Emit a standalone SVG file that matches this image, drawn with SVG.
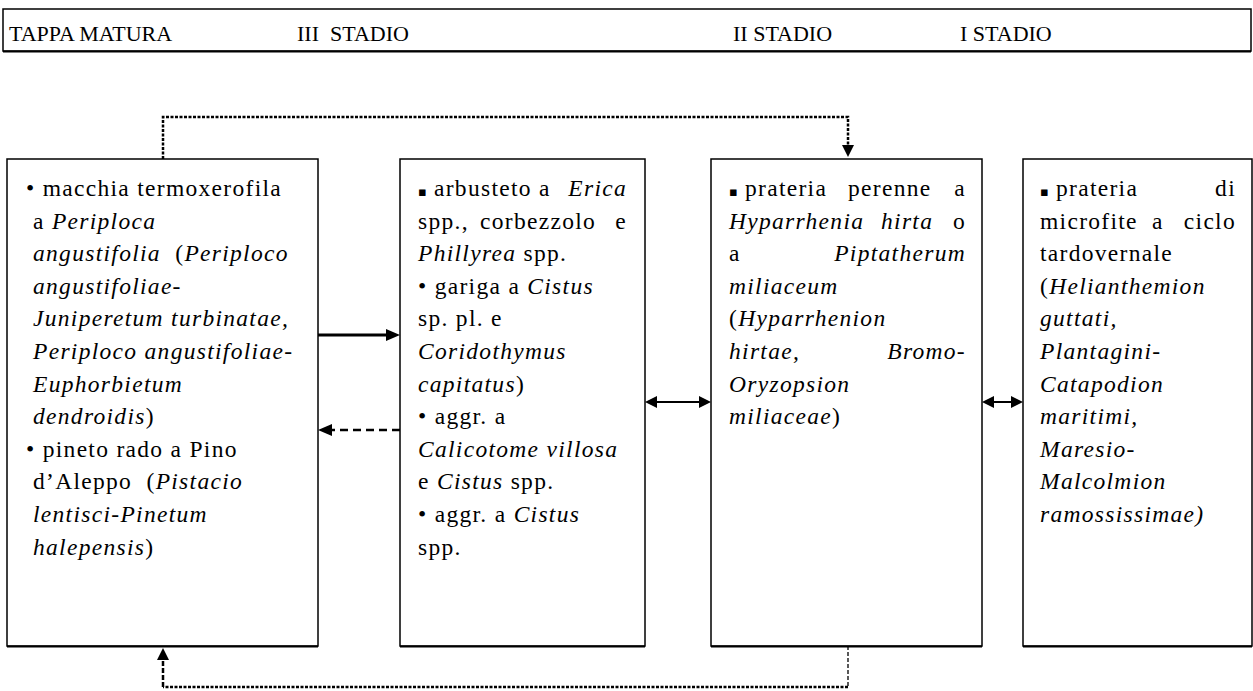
<svg xmlns="http://www.w3.org/2000/svg" width="1253" height="691" viewBox="0 0 1253 691">
<style>
.bx{fill:#fff;stroke:#000;stroke-width:1.5}
.sh{stroke:#000;stroke-width:2}
.t{font-family:"Liberation Serif","Times New Roman",serif;font-size:23.5px;letter-spacing:1.3px;fill:#000}
.h{font-family:"Liberation Serif","Times New Roman",serif;font-size:22px;fill:#000}
.i{font-style:italic}
.e{text-anchor:end}
.sq{font-family:"DejaVu Sans",sans-serif;font-size:13px;letter-spacing:0}
.c{fill:none;stroke:#000}
</style>
<defs>
<marker id="ah" markerUnits="userSpaceOnUse" markerWidth="14" markerHeight="12" refX="0" refY="6" orient="auto-start-reverse"><path d="M0,0 L14,6 L0,12 z" fill="#000"/></marker>
<marker id="as" markerUnits="userSpaceOnUse" markerWidth="12" markerHeight="12" refX="0" refY="6" orient="auto-start-reverse"><path d="M0,0 L12,6 L0,12 z" fill="#000"/></marker>
</defs>

<g id="header">
<rect class="bx" x="3" y="9" width="1248" height="42"/>
<line class="sh" x1="3" y1="51.5" x2="1251" y2="51.5"/>
<text class="h" x="9" y="41">TAPPA MATURA</text>
<text class="h" x="297" y="41" xml:space="preserve">III  STADIO</text>
<text class="h" x="733" y="41">II STADIO</text>
<text class="h" x="960" y="41">I STADIO</text>
</g>

<g id="connectors">
<path class="c" d="M163,159 V117 H848 V145" stroke-width="2.5" stroke-dasharray="3 1.5" marker-end="url(#as)"/>
<path class="c" d="M848,646 V687" stroke-width="1.3" stroke-dasharray="4 2"/>
<path class="c" d="M848,687 H163" stroke-width="2.5" stroke-dasharray="3 1.5"/>
<path class="c" d="M163,687 V660" stroke-width="2.5" stroke-dasharray="5 2" marker-end="url(#as)"/>
<path class="c" d="M318,335 H386" stroke-width="3" marker-end="url(#ah)"/>
<path class="c" d="M400,430 H332" stroke-width="2.5" stroke-dasharray="8 5" marker-end="url(#ah)"/>
<path class="c" d="M657,402 H699" stroke-width="2" marker-start="url(#as)" marker-end="url(#as)"/>
<path class="c" d="M994,402 H1011" stroke-width="2" marker-start="url(#as)" marker-end="url(#as)"/>
</g>

<g id="tappa-matura">
<rect class="bx" x="7" y="159" width="311" height="487"/>
<line class="sh" x1="7" y1="646.5" x2="318" y2="646.5"/>
<text class="t" x="26" y="196">• macchia termoxerofila</text>
<text class="t" x="33" y="228.6">a <tspan class="i">Periploca</tspan></text>
<text class="t" x="33" y="261.2" xml:space="preserve"><tspan class="i">angustifolia</tspan>  (<tspan class="i">Periploco</tspan></text>
<text class="t i" x="33" y="293.8">angustifoliae-</text>
<text class="t i" x="33" y="326.4">Juniperetum turbinatae,</text>
<text class="t i" x="33" y="359">Periploco angustifoliae-</text>
<text class="t i" x="33" y="391.6">Euphorbietum</text>
<text class="t" x="33" y="424.2"><tspan class="i">dendroidis</tspan>)</text>
<text class="t" x="26" y="456.8">• pineto rado a Pino</text>
<text class="t" x="33" y="489.4" xml:space="preserve">d’Aleppo  (<tspan class="i">Pistacio</tspan></text>
<text class="t i" x="33" y="522">lentisci-Pinetum</text>
<text class="t" x="33" y="554.6"><tspan class="i">halepensis</tspan>)</text>
</g>

<g id="stadio-3">
<rect class="bx" x="400" y="159" width="245" height="487"/>
<line class="sh" x1="400" y1="646.5" x2="645" y2="646.5"/>
<text class="t" x="418" y="196"><tspan class="sq">▪</tspan> arbusteto a</text>
<text class="t i e" x="627" y="196">Erica</text>
<text class="t" x="418" y="228.6">spp.,</text>
<text class="t" x="480" y="228.6">corbezzolo</text>
<text class="t e" x="627" y="228.6">e</text>
<text class="t" x="418" y="261.2"><tspan class="i">Phillyrea</tspan> spp.</text>
<text class="t" x="418" y="293.8">• gariga a <tspan class="i">Cistus</tspan></text>
<text class="t" x="418" y="326.4">sp. pl. e</text>
<text class="t i" x="418" y="359">Coridothymus</text>
<text class="t" x="418" y="391.6"><tspan class="i">capitatus</tspan>)</text>
<text class="t" x="418" y="424.2">• aggr. a</text>
<text class="t i" x="418" y="456.8">Calicotome villosa</text>
<text class="t" x="418" y="489.4">e <tspan class="i">Cistus</tspan> spp.</text>
<text class="t" x="418" y="522">• aggr. a <tspan class="i">Cistus</tspan></text>
<text class="t" x="418" y="554.6">spp.</text>
</g>

<g id="stadio-2">
<rect class="bx" x="711" y="159" width="271" height="487"/>
<line class="sh" x1="711" y1="646.5" x2="982" y2="646.5"/>
<text class="t" x="729" y="196"><tspan class="sq">▪</tspan> prateria</text>
<text class="t" x="848" y="196">perenne</text>
<text class="t e" x="966" y="196">a</text>
<text class="t i" x="729" y="228.6">Hyparrhenia</text>
<text class="t i" x="881" y="228.6">hirta</text>
<text class="t e" x="966" y="228.6">o</text>
<text class="t" x="729" y="261.2">a</text>
<text class="t i e" x="966" y="261.2">Piptatherum</text>
<text class="t i" x="729" y="293.8">miliaceum</text>
<text class="t" x="729" y="326.4">(<tspan class="i">Hyparrhenion</tspan></text>
<text class="t i" x="729" y="359">hirtae,</text>
<text class="t i e" x="966" y="359">Bromo-</text>
<text class="t i" x="729" y="391.6">Oryzopsion</text>
<text class="t" x="729" y="424.2"><tspan class="i">miliaceae</tspan>)</text>
</g>

<g id="stadio-1">
<rect class="bx" x="1023" y="159" width="229" height="487"/>
<line class="sh" x1="1023" y1="646.5" x2="1252" y2="646.5"/>
<text class="t" x="1040" y="196"><tspan class="sq">▪</tspan> prateria</text>
<text class="t e" x="1236" y="196">di</text>
<text class="t" x="1040" y="228.6">microfite</text>
<text class="t" x="1152" y="228.6">a</text>
<text class="t e" x="1236" y="228.6">ciclo</text>
<text class="t" x="1040" y="261.2">tardovernale</text>
<text class="t" x="1040" y="293.8">(<tspan class="i">Helianthemion</tspan></text>
<text class="t i" x="1040" y="326.4">guttati,</text>
<text class="t i" x="1040" y="359">Plantagini-</text>
<text class="t i" x="1040" y="391.6">Catapodion</text>
<text class="t i" x="1040" y="424.2">maritimi,</text>
<text class="t i" x="1040" y="456.8">Maresio-</text>
<text class="t i" x="1040" y="489.4">Malcolmion</text>
<text class="t i" x="1040" y="522">ramossissimae)</text>
</g>
</svg>
